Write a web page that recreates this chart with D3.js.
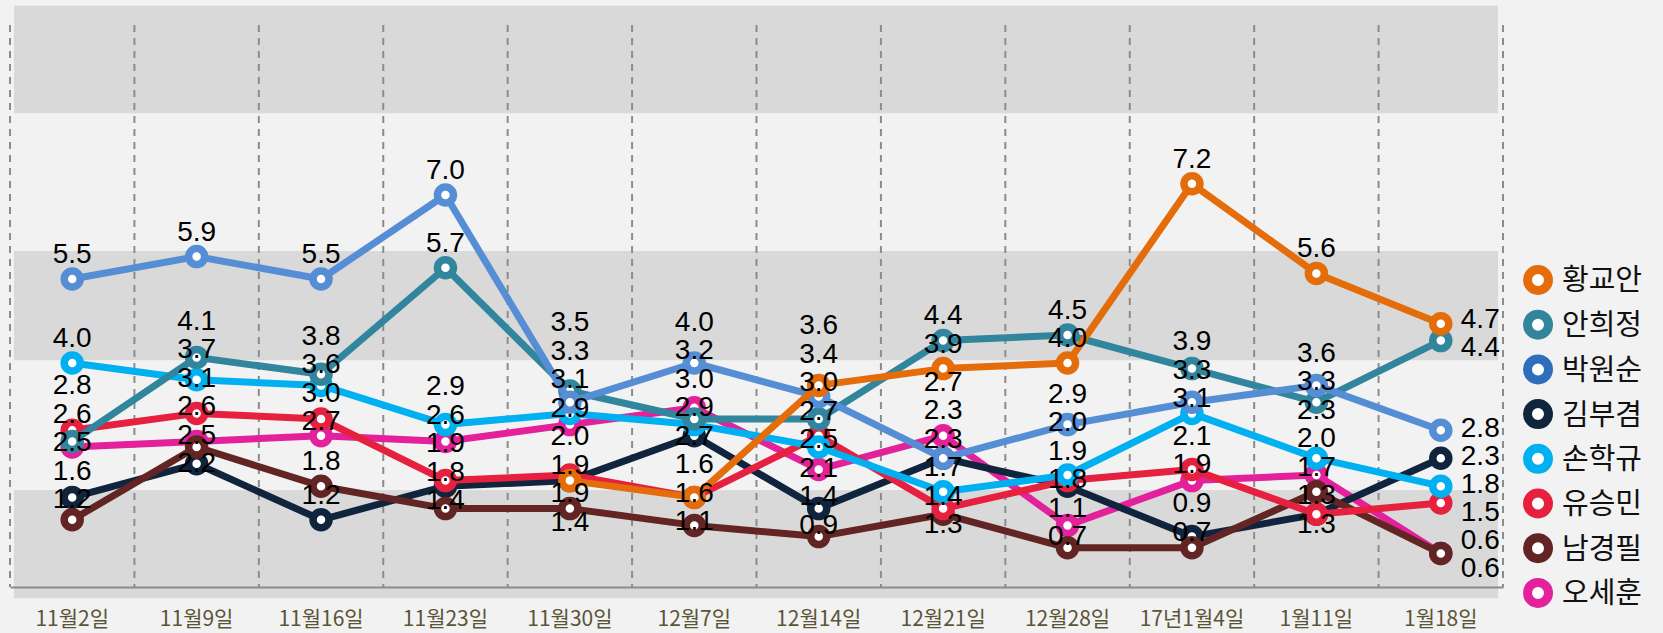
<!DOCTYPE html>
<html>
<head>
<meta charset="utf-8">
<script src="https://cdn.jsdelivr.net/npm/d3@7/dist/d3.min.js"></script>
<style>
  body { margin: 0; background: #f2f2f2; }
  svg { display: block; }
  .val { font: 28px "Liberation Sans", Arial, sans-serif; fill: #000; }
  .xaxis text { font: 21px "Noto Sans CJK KR", sans-serif; fill: #5b5436; }
  .legend text { font: 29px "Noto Sans CJK KR", sans-serif; fill: #111; }
</style>
</head>
<body>
<div id="chart"></div>
<script>
const categories = ['11월2일', '11월9일', '11월16일', '11월23일', '11월30일', '12월7일',
  '12월14일', '12월21일', '12월28일', '17년1월4일', '1월11일', '1월18일'];

const hwangKyoahn = [null, null, null, null, 1.9, 1.6, 3.6, 3.9, 4.0, 7.2, 5.6, 4.7];
const ahnHeejung = [2.6, 4.1, 3.8, 5.7, 3.5, 3.0, 3.0, 4.4, 4.5, 3.9, 3.3, 4.4];
const parkWonsoon = [5.5, 5.9, 5.5, 7.0, 3.3, 4.0, 3.4, 2.3, 2.9, 3.3, 3.6, 2.8];
const kimBookyum = [1.6, 2.2, 1.2, 1.8, 1.9, 2.7, 1.4, 2.3, 1.8, 0.9, 1.3, 2.3];
const sonHakkyu = [4.0, 3.7, 3.6, 2.9, 3.1, 2.9, 2.5, 1.7, 2.0, 3.1, 2.3, 1.8];
const yooSeungmin = [2.8, 3.1, 3.0, 1.9, 2.0, 1.6, 2.7, 1.4, 1.9, 2.1, 1.3, 1.5];
const namKyungpil = [1.2, 2.5, 1.8, 1.4, 1.4, 1.1, 0.9, 1.3, 0.7, 0.7, 1.7, 0.6];
const ohSehoon = [2.5, 2.6, 2.7, 2.6, 2.9, 3.2, 2.1, 2.7, 1.1, 1.9, 2.0, 0.6];

const seriesNames = ['황교안', '안희정', '박원순', '김부겸', '손학규', '유승민', '남경필', '오세훈'];
const seriesValues = [hwangKyoahn, ahnHeejung, parkWonsoon, kimBookyum, sonHakkyu, yooSeungmin, namKyungpil, ohSehoon];
const seriesColors = ['#e46c0a', '#31859c', '#558ed5', '#10243e', '#00b0f0', '#e6203f', '#632523', '#e3219a'];
const legendColors = ['#e46c0a', '#31859c', '#2f6ebd', '#10243e', '#00b0f0', '#e6203f', '#632523', '#e3219a'];
// drawing order (last on top)
const drawOrder = ['오세훈', '김부겸', '남경필', '유승민', '손학규', '안희정', '박원순', '황교안'];

// background stripes, in value units
const bandRanges = [[-0.2, 1.73], [4.05, 6.0], [8.46, 10.38]];

const width = 1663, height = 633;

const svg = d3.select('#chart').append('svg')
  .attr('width', width)
  .attr('height', height);

svg.append('rect').attr('width', width).attr('height', height).attr('fill', '#f2f2f2');

const x = d3.scaleBand().domain(categories).range([10, 1503]);
const y = d3.scaleLinear().domain([0, 10]).range([587, 27]);
const cx = c => x(c) + x.bandwidth() / 2;

// stripes
svg.append('g').selectAll('rect')
  .data(bandRanges)
  .enter()
  .append('rect')
  .attr('x', 14)
  .attr('width', 1484)
  .attr('y', d => y(d[1]))
  .attr('height', d => y(d[0]) - y(d[1]))
  .attr('fill', '#d9d9d9');

// vertical dashed grid
const edges = categories.map(c => x(c)).concat([x.range()[1]]);
svg.append('g').selectAll('line')
  .data(edges)
  .enter()
  .append('line')
  .attr('x1', d => d).attr('x2', d => d)
  .attr('y1', 25).attr('y2', y(0))
  .attr('stroke', '#8c8c8c')
  .attr('stroke-width', 2)
  .attr('stroke-dasharray', '7,6');

// x axis
const xAxis = svg.append('g')
  .attr('class', 'xaxis')
  .attr('transform', 'translate(0,' + y(0) + ')')
  .call(d3.axisBottom(x).tickSize(0).tickSizeOuter(0).tickPadding(24));
xAxis.select('.domain').attr('stroke', '#8c8c8c').attr('stroke-width', 2);

const series = seriesNames.map((name, i) => ({
  name,
  color: seriesColors[i],
  points: categories.map((c, j) => ({ c, j, v: seriesValues[i][j] })).filter(d => d.v != null)
}));
const ordered = drawOrder.map(n => series.find(s => s.name === n));

const line = d3.line().x(d => cx(d.c)).y(d => y(d.v));

const sg = svg.append('g').selectAll('g')
  .data(ordered)
  .enter()
  .append('g');

sg.append('path')
  .attr('d', d => line(d.points))
  .attr('fill', 'none')
  .attr('stroke', d => d.color)
  .attr('stroke-width', 7)
  .attr('stroke-linejoin', 'round');

sg.selectAll('circle')
  .data(d => d.points.map(p => Object.assign({ color: d.color }, p)))
  .enter()
  .append('circle')
  .attr('cx', d => cx(d.c))
  .attr('cy', d => y(d.v))
  .attr('r', 8)
  .attr('fill', '#fff')
  .attr('stroke', d => d.color)
  .attr('stroke-width', 7.5);

// value labels: stacked per category so they don't pile up
function spread(items, gap) {
  items.sort((a, b) => a.want - b.want);
  let clusters = items.map(d => ({ members: [d], mean: d.want }));
  let changed = true;
  while (changed) {
    changed = false;
    for (let i = 0; i < clusters.length - 1; i++) {
      const a = clusters[i], b = clusters[i + 1];
      const aEnd = a.mean + (a.members.length - 1) * gap / 2;
      const bStart = b.mean - (b.members.length - 1) * gap / 2;
      if (bStart - aEnd < gap) {
        const members = a.members.concat(b.members);
        clusters.splice(i, 2, { members, mean: d3.mean(members, d => d.want) });
        changed = true;
        break;
      }
    }
  }
  clusters.forEach(cl => cl.members.forEach((d, k) => {
    d.y = cl.mean + (k - (cl.members.length - 1) / 2) * gap;
  }));
}

const labels = [];
categories.forEach((c, j) => {
  const last = j === categories.length - 1;
  const items = [];
  seriesValues.forEach(vals => {
    const v = vals[j];
    if (v == null) return;
    items.push({ c, v, last, want: last ? y(v) : y(v) - 26 });
  });
  spread(items, last ? 28 : 28.5);
  labels.push(...items);
});

svg.append('g').selectAll('text')
  .data(labels)
  .enter()
  .append('text')
  .attr('class', 'val')
  .attr('x', d => d.last ? cx(d.c) + 20 : cx(d.c))
  .attr('y', d => d.y)
  .attr('dy', '0.36em')
  .attr('text-anchor', d => d.last ? 'start' : 'middle')
  .text(d => d3.format('.1f')(d.v));

// legend
const legend = svg.append('g').attr('class', 'legend')
  .selectAll('g')
  .data(seriesNames)
  .enter()
  .append('g')
  .attr('transform', (d, i) => 'translate(1538,' + (280 + i * 44.7) + ')');

legend.append('circle')
  .attr('r', 10.5)
  .attr('fill', '#fff')
  .attr('stroke', (d, i) => legendColors[i])
  .attr('stroke-width', 9);

legend.append('text')
  .attr('x', 24)
  .attr('dy', '0.36em')
  .text(d => d);
</script>
</body>
</html>
